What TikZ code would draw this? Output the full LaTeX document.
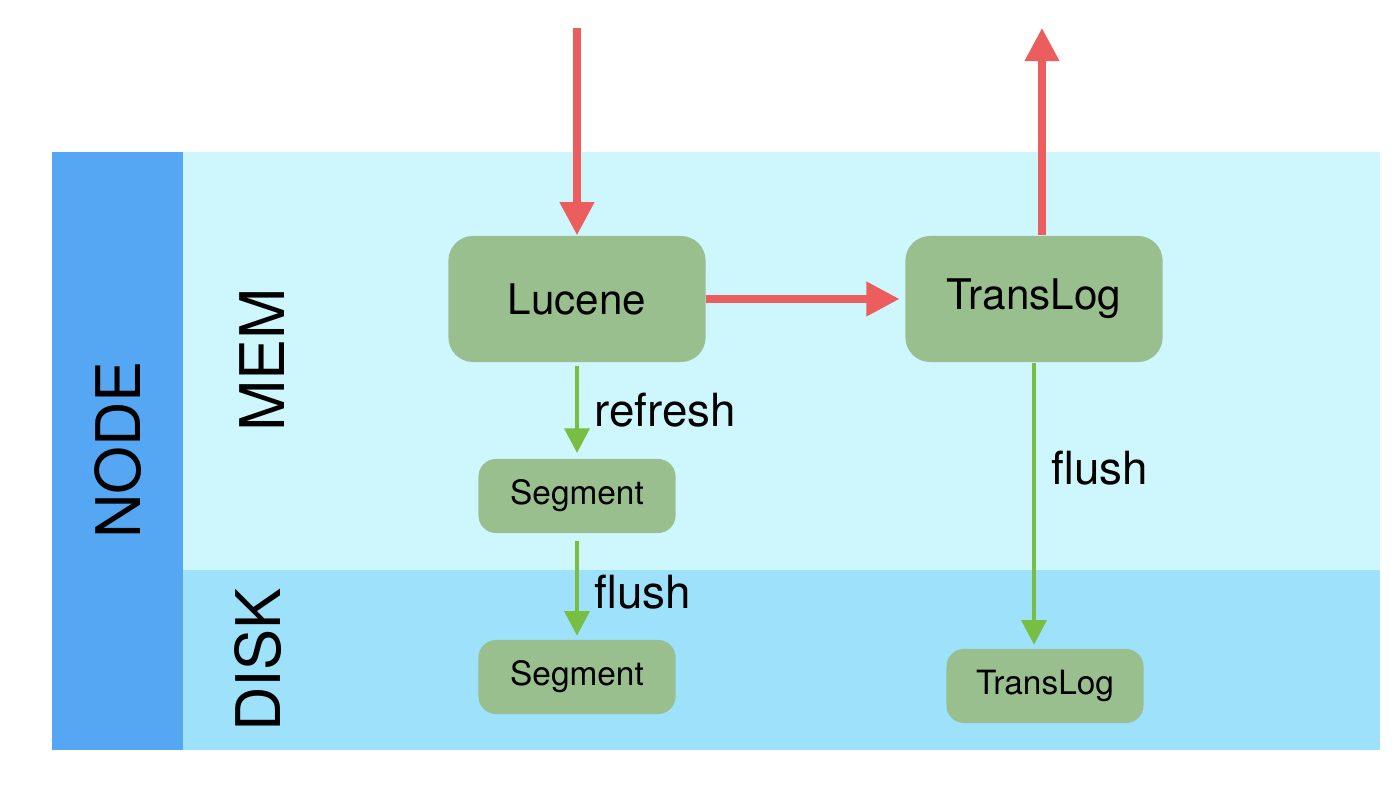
\documentclass[tikz,border=0pt]{standalone}
\usepackage{fontspec}
\setmainfont{TeX Gyre Heros}
\usetikzlibrary{arrows.meta}
\definecolor{nodeblue}{HTML}{55A7F4}
\definecolor{memblue}{HTML}{CEF6FD}
\definecolor{diskblue}{HTML}{9DE1FB}
\definecolor{boxgreen}{HTML}{98BF8D}
\definecolor{arrowred}{HTML}{EC5D5D}
\definecolor{arrowgreen}{HTML}{78BE43}
\begin{document}
\begin{tikzpicture}[x=0.01cm,y=-0.01cm,
  bigbox/.style={fill=boxgreen, rounded corners=7pt, minimum width=2.57cm, minimum height=1.26cm, font=\fontsize{12}{14}\selectfont},
  smallbox/.style={fill=boxgreen, rounded corners=5pt, minimum width=1.97cm, minimum height=0.74cm, font=\fontsize{9.5}{11}\selectfont},
  redarrow/.style={draw=arrowred, line width=2pt, -{Triangle[width=9.4pt,length=9.4pt]}},
  greenarrow/.style={draw=arrowgreen, line width=1.3pt, -{Triangle[width=7pt,length=7pt]}},
  lbl/.style={right, xshift=1pt, font=\fontsize{13}{15}\selectfont},
  side/.style={rotate=90, font=\fontsize{17.5}{20}\selectfont}]
\useasboundingbox (0,0) rectangle (1400,804);
% bands
\fill[nodeblue] (52,152) rectangle (183,750);
\fill[memblue] (183,152) rectangle (1380,570);
\fill[diskblue] (183,570) rectangle (1380,750);
\node[side] (nodelbl) at (118,450) {NODE};
\node[side] (memlbl) at (262,360) {MEM};
\node[side] (disklbl) at (258,660) {DISK};
% boxes
\node[bigbox] (lucene) at (577,299) {Lucene};
\node[bigbox] (translog) at (1034,299) {TransLog};
\node[smallbox] (memseg) at (577,496) {Segment};
\node[smallbox] (diskseg) at (577,677) {Segment};
\node[smallbox] (disklog) at (1045,686) {TransLog};
\coordinate (in) at (577,28);
\coordinate (out) at (1042,28);
% arrows
\draw[redarrow] (in) -- (lucene);
\draw[redarrow, shorten >=1.5pt] (lucene) -- (translog);
\draw[redarrow] (translog.north -| out) -- (out);
\draw[greenarrow, shorten <=1pt, shorten >=1.5pt] (lucene) -- node[lbl] {refresh} (memseg);
\draw[greenarrow, shorten <=2pt, shorten >=1pt] (memseg) -- node[lbl, pos=0.55] {flush} (diskseg);
\draw[greenarrow, shorten >=1pt] (translog) -- node[lbl, pos=0.37] {flush} (translog |- disklog.north);
\end{tikzpicture}
\end{document}
